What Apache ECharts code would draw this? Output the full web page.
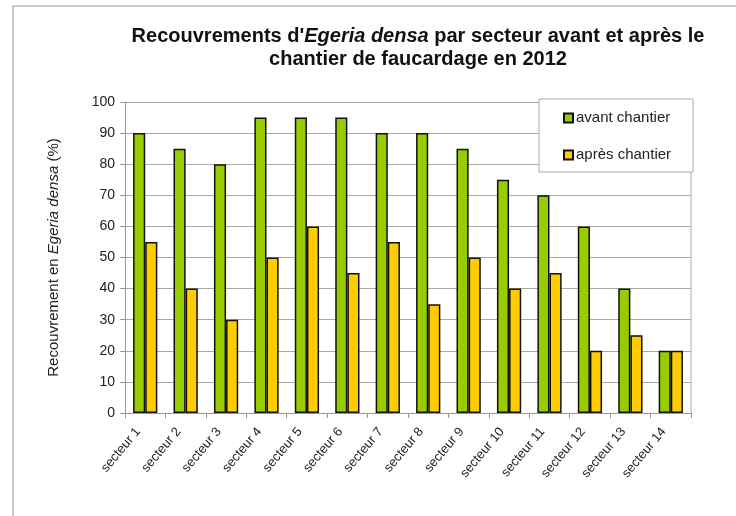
<!DOCTYPE html>
<html><head><meta charset="utf-8">
<script src="https://cdn.jsdelivr.net/npm/echarts@6/dist/echarts.min.js"></script>
<style>html,body{margin:0;padding:0;background:#fff}#c{width:736px;height:516px}</style>
</head><body><div id="c"></div>
<script>
const categories = ['secteur 1','secteur 2','secteur 3','secteur 4','secteur 5','secteur 6','secteur 7','secteur 8','secteur 9','secteur 10','secteur 11','secteur 12','secteur 13','secteur 14'];
const avantChantier = [90,85,80,95,95,95,90,90,85,75,70,60,40,20];
const apresChantier = [55,40,30,50,60,45,55,35,50,40,45,20,25,20];
const yTicks = {min:0, max:100, interval:10};

const FF = '"Liberation Sans", Arial, sans-serif';
const chart = echarts.init(document.getElementById('c'), null, {renderer:'canvas'});
chart.setOption({
  backgroundColor:'#fff',
  animation:false,
  graphic:[
    {type:'polyline', shape:{points:[[13,516],[13,6],[736,6]]}, style:{stroke:'#bbb', lineWidth:1.5, fill:null}, z:0},
    {type:'line', shape:{x1:691, y1:102, x2:691, y2:413}, style:{stroke:'#aaa', lineWidth:1}}
  ],
  title:{
    text:"{n|Recouvrements d'}{i|Egeria densa}{n| par secteur avant et après le}\n{n|chantier de faucardage en 2012}",
    left:418, top:25, textAlign:'center', padding:0,
    textStyle:{
      fontFamily:FF, fontSize:20, fontWeight:'bold', color:'#111', lineHeight:23,
      rich:{
        n:{fontFamily:FF, fontSize:20, fontWeight:'bold', color:'#111', lineHeight:23},
        i:{fontFamily:FF, fontSize:20, fontWeight:'bold', fontStyle:'italic', color:'#111', lineHeight:23}
      }
    }
  },
  legend:{
    orient:'vertical', left:539, top:99,
    backgroundColor:'#fff', borderColor:'#aaa', borderWidth:1,
    padding:[11,22,9,24], itemGap:21, itemWidth:9, itemHeight:9,
    icon:'rect',
    textStyle:{fontFamily:FF, fontSize:15, lineHeight:16, color:'#222', padding:[0,0,0,-2]},
    data:['avant chantier','après chantier']
  },
  grid:{left:125, right:45, top:102, bottom:103},
  xAxis:{
    type:'category', data:categories,
    axisLine:{lineStyle:{color:'#999', width:1}},
    axisTick:{show:true, length:5, lineStyle:{color:'#999'}},
    axisLabel:{rotate:50, fontFamily:FF, fontSize:13, color:'#222', margin:8, interval:0, padding:[0,11,0,0]},
    splitLine:{show:false}
  },
  yAxis:{
    type:'value', min:yTicks.min, max:yTicks.max, interval:yTicks.interval,
    name:'{n|Recouvrement en }{i|Egeria densa}{n| (%)}',
    nameLocation:'middle', nameRotate:90, nameGap:64,
    nameTextStyle:{fontFamily:FF, fontSize:15, color:'#222',
      rich:{n:{fontFamily:FF, fontSize:15, color:'#222'}, i:{fontFamily:FF, fontSize:15, fontStyle:'italic', color:'#222'}}},
    axisLine:{show:true, lineStyle:{color:'#999', width:1}},
    axisTick:{show:true, length:5, lineStyle:{color:'#999'}},
    axisLabel:{fontFamily:FF, fontSize:14, color:'#222', margin:10},
    splitLine:{show:true, lineStyle:{color:'#aaa', width:1}}
  },
  series:[
    {name:'avant chantier', type:'bar', data:avantChantier, barGap:'0%', barCategoryGap:'40%',
     itemStyle:{color:'#99cc00', borderColor:'#111', borderWidth:1.5}},
    {name:'après chantier', type:'bar', data:apresChantier, barGap:'0%', barCategoryGap:'40%',
     itemStyle:{color:'#ffcc00', borderColor:'#111', borderWidth:1.5}}
  ]
});
</script></body></html>
